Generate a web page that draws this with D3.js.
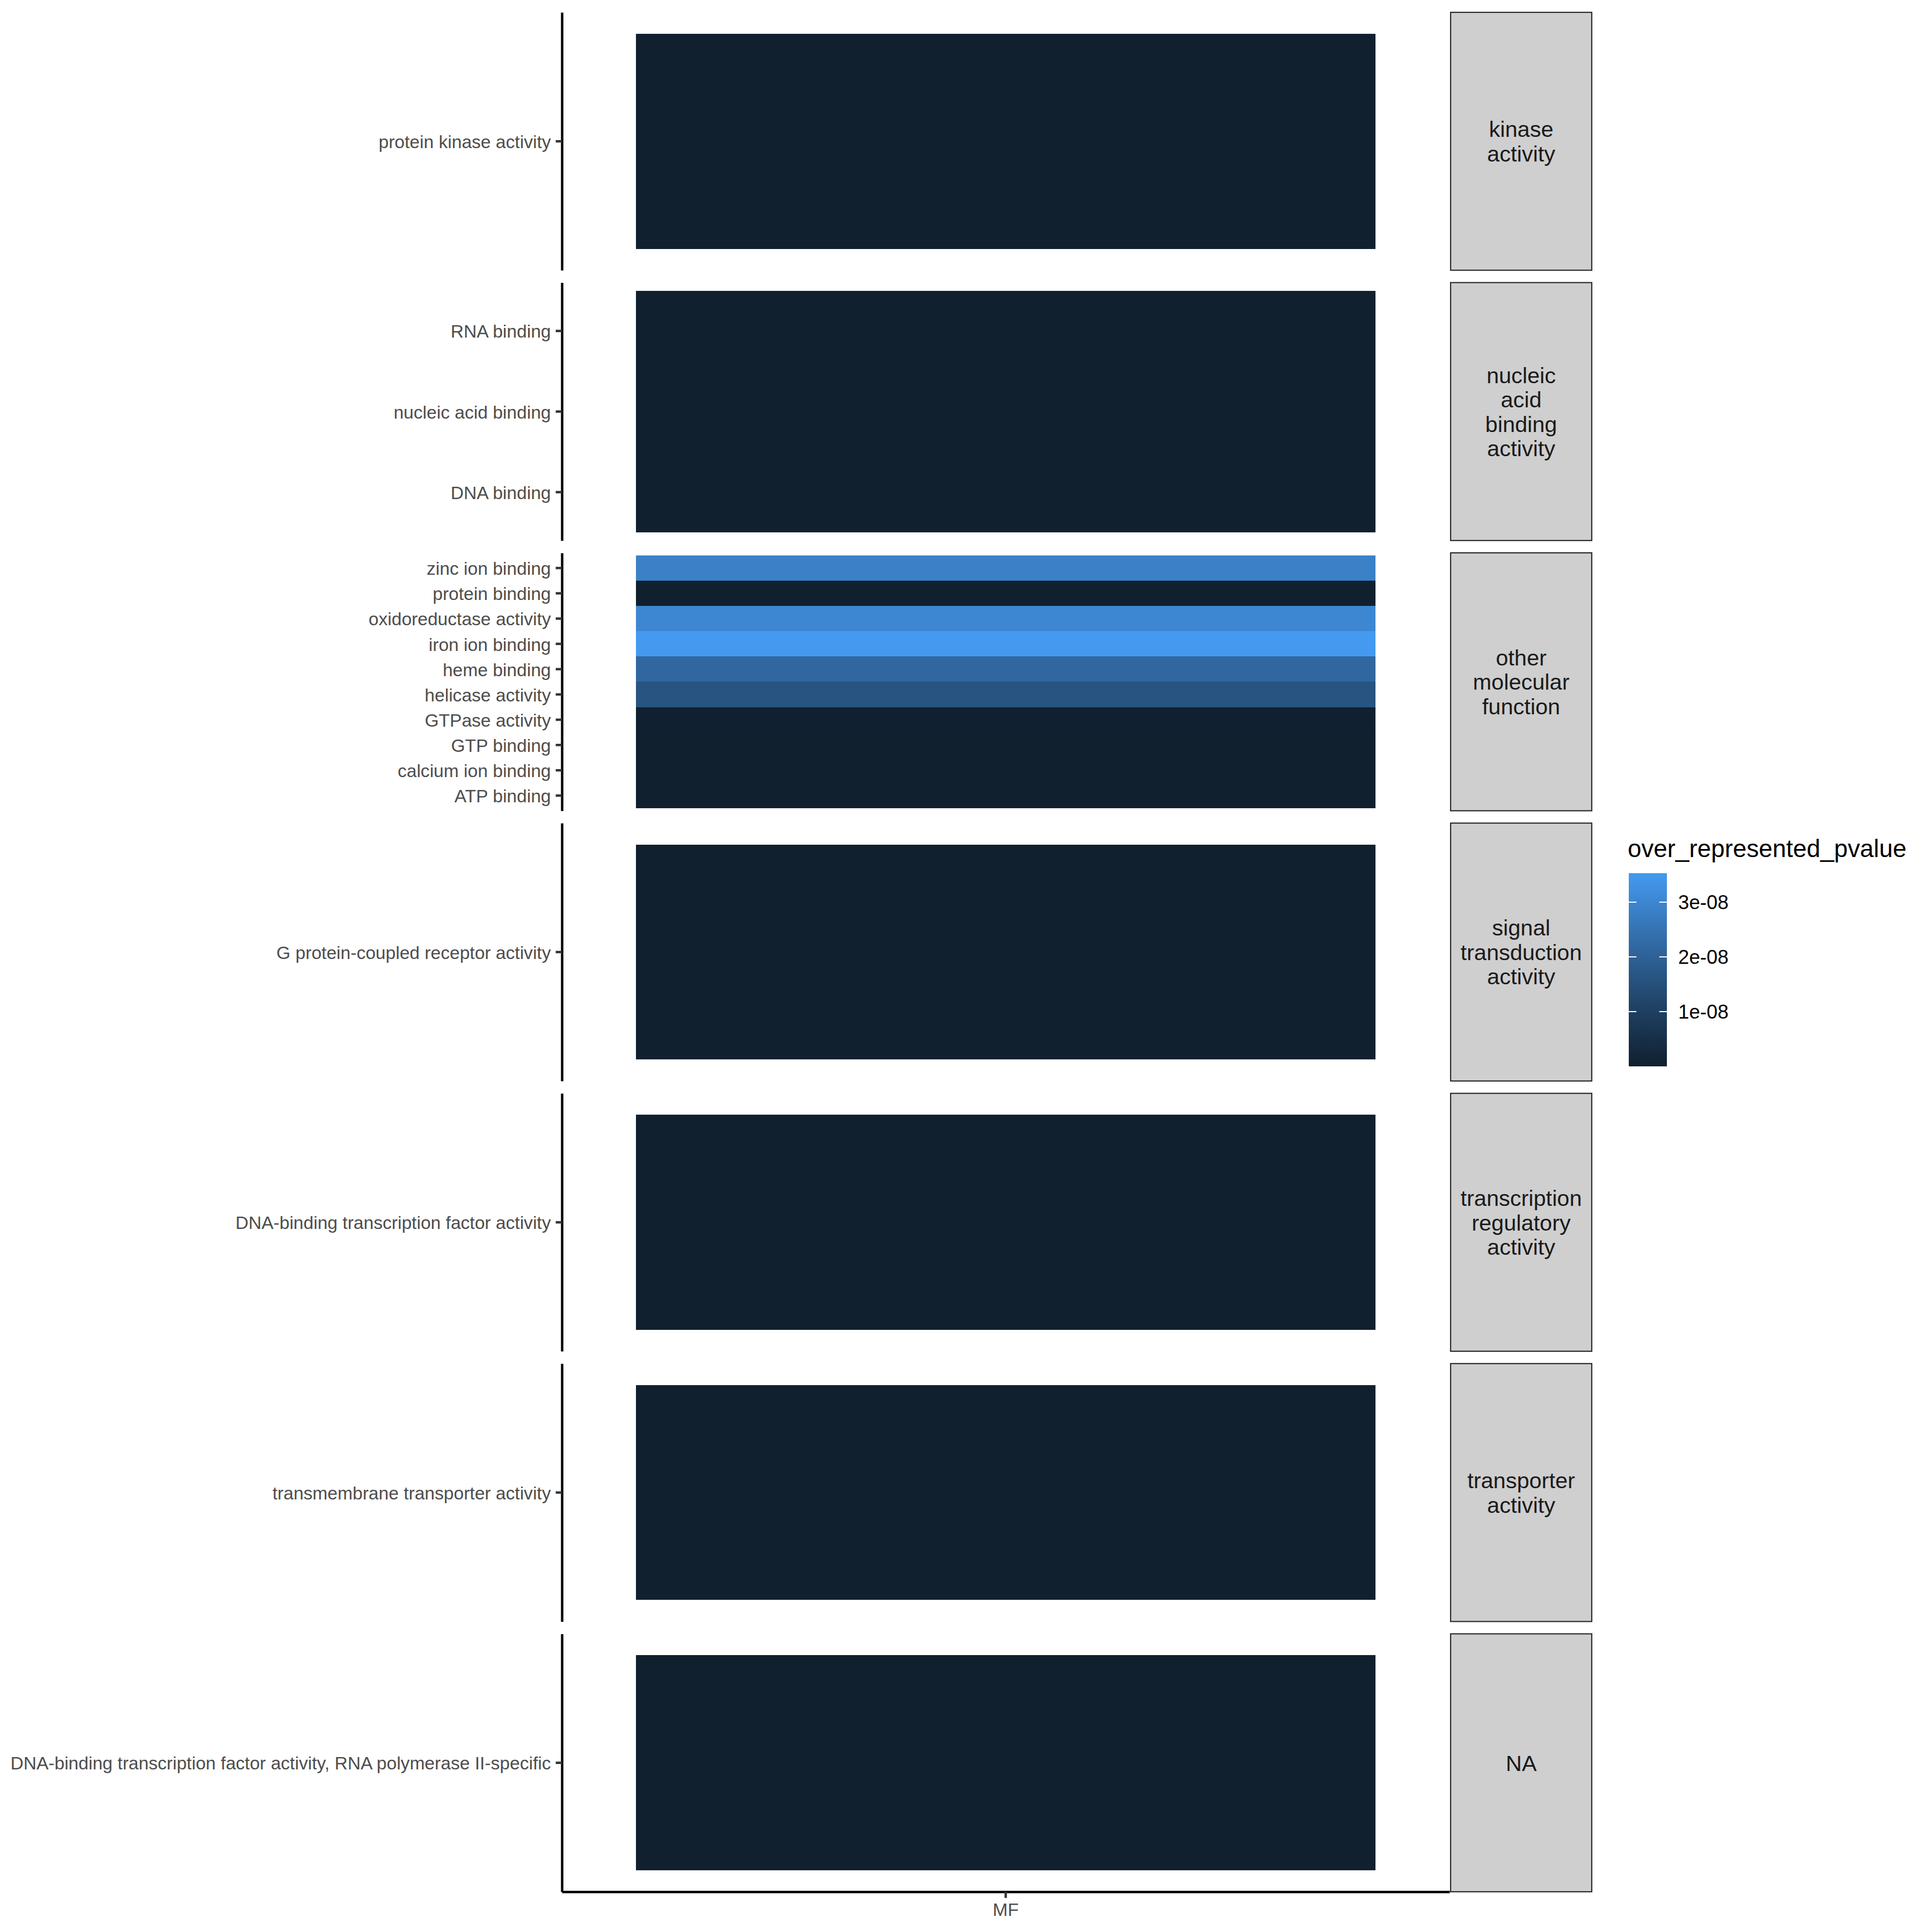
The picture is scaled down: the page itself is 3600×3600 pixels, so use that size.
<!DOCTYPE html>
<html><head><meta charset="utf-8">
<script src="https://cdn.jsdelivr.net/npm/d3@7"></script>
<style>body{margin:0;background:#fff}</style>
</head><body>
<script>
// ---------- data ----------
const groups = ["kinase activity","nucleic acid binding activity","other molecular function",
  "signal transduction activity","transcription regulatory activity","transporter activity","NA"];
// terms listed top-to-bottom as displayed
const terms = [
  "protein kinase activity",
  "RNA binding","nucleic acid binding","DNA binding",
  "zinc ion binding","protein binding","oxidoreductase activity","iron ion binding","heme binding",
  "helicase activity","GTPase activity","GTP binding","calcium ion binding","ATP binding",
  "G protein-coupled receptor activity",
  "DNA-binding transcription factor activity",
  "transmembrane transporter activity",
  "DNA-binding transcription factor activity, RNA polymerase II-specific"
];
const termGroups = [
  "kinase activity",
  "nucleic acid binding activity","nucleic acid binding activity","nucleic acid binding activity",
  "other molecular function","other molecular function","other molecular function","other molecular function","other molecular function",
  "other molecular function","other molecular function","other molecular function","other molecular function","other molecular function",
  "signal transduction activity",
  "transcription regulatory activity",
  "transporter activity",
  "NA"
];
const pvalues = [
  2.1e-12,
  4.0e-11, 6.0e-13, 1.2e-11,
  2.86e-08, 3.0e-11, 3.04e-08, 3.53e-08, 2.15e-08,
  1.61e-08, 1.5e-10, 8.0e-11, 2.0e-11, 1.0e-13,
  5.0e-12,
  1.0e-12,
  3.0e-12,
  2.0e-12
];
const xCategories = ["MF"];
const legendTicks = [1e-8, 2e-8, 3e-8];
const legendTitle = "over_represented_pvalue";

// ---------- layout ----------
const W = 3600, H = 3600;
const font = "'Liberation Sans', Arial, Helvetica, sans-serif";
const panelLeft = 1047, panelRight = 2701, panelTop = 23, panelBottom = 3525, gap = 23;
const stripLeft = 2703, stripWidth = 263;
const nP = groups.length;
const panelH = (panelBottom - panelTop - gap * (nP - 1)) / nP;

const svg = d3.select("body").append("svg")
  .attr("width", W).attr("height", H)
  .style("font-family", font);
svg.append("rect").attr("width", W).attr("height", H).attr("fill", "#fff");

const vmin = d3.min(pvalues), vmax = d3.max(pvalues);
const color = d3.scaleLinear().domain([vmin, vmax])
  .range(["#10202f", "#449af0"]).interpolate(d3.interpolateLab);

const x = d3.scaleBand().domain(xCategories).range([panelLeft, panelRight])
  .paddingInner(0).paddingOuter(0.1);

const data = terms.map((t, i) => ({term: t, group: termGroups[i], p: pvalues[i]}));

function wrap(s, width) {
  const words = s.split(" "); const lines = []; let cur = "";
  words.forEach(w => {
    if (cur === "") cur = w;
    else if ((cur + " " + w).length <= width) cur += " " + w;
    else { lines.push(cur); cur = w; }
  });
  if (cur) lines.push(cur);
  return lines;
}

groups.forEach((g, gi) => {
  const top = panelTop + gi * (panelH + gap);
  const bottom = top + panelH;
  const rows = data.filter(d => d.group === g);
  const y = d3.scaleBand().domain(rows.map(d => d.term)).range([top, bottom])
    .paddingInner(0).paddingOuter(0.1);

  svg.append("g").selectAll("rect").data(rows).join("rect")
    .attr("x", d => x("MF"))
    .attr("width", x.bandwidth())
    .attr("y", d => y(d.term))
    .attr("height", y.bandwidth())
    .attr("fill", d => color(d.p))
    .attr("shape-rendering", "crispEdges");

  const ax = svg.append("g").attr("transform", `translate(${panelLeft},0)`)
    .call(d3.axisLeft(y).tickSize(11.5).tickSizeOuter(0).tickPadding(9));
  ax.select(".domain").attr("stroke", "#000").attr("stroke-width", 4.5);
  ax.selectAll(".tick line").attr("stroke", "#333").attr("stroke-width", 4.5);
  ax.selectAll(".tick text").attr("fill", "#4d4d4d").style("font-size", "33.6px")
    .attr("dy", "0.38em").style("font-family", font);

  // strip
  svg.append("rect").attr("x", stripLeft).attr("y", top)
    .attr("width", stripWidth).attr("height", panelH)
    .attr("fill", "#cfcfcf").attr("stroke", "#2a2a2a").attr("stroke-width", 2.2);
  const lines = wrap(g, 10);
  const lh = 45.5;
  const cy = top + panelH / 2;
  const t = svg.append("text").attr("text-anchor", "middle")
    .attr("fill", "#1a1a1a").style("font-size", "41.5px");
  lines.forEach((l, i) => {
    t.append("tspan").attr("x", stripLeft + stripWidth / 2)
      .attr("y", cy + (i - (lines.length - 1) / 2) * lh)
      .attr("dy", "0.36em").text(l);
  });
});

// bottom axis
const bx = svg.append("g").attr("transform", `translate(0,${panelBottom})`)
  .call(d3.axisBottom(x).tickSize(11.5).tickSizeOuter(0).tickPadding(10));
bx.select(".domain").attr("stroke", "#000").attr("stroke-width", 4.5);
bx.selectAll(".tick line").attr("stroke", "#333").attr("stroke-width", 4.5);
bx.selectAll(".tick text").attr("fill", "#4d4d4d").style("font-size", "33.6px")
  .style("font-family", font);

// ---------- legend ----------
const lgX = 3035, lgW = 71, lgTop = 1627, lgBot = 1987;
const ly = d3.scaleLinear().domain([vmin, vmax]).range([lgBot, lgTop]);
const defs = svg.append("defs");
const grad = defs.append("linearGradient").attr("id", "lg")
  .attr("x1", 0).attr("y1", 1).attr("x2", 0).attr("y2", 0);
d3.range(0, 1.0001, 0.05).forEach(f => {
  grad.append("stop").attr("offset", f)
    .attr("stop-color", color(vmin + f * (vmax - vmin)));
});
svg.append("rect").attr("x", lgX).attr("y", lgTop).attr("width", lgW)
  .attr("height", lgBot - lgTop).attr("fill", "url(#lg)");

function fmtExp(v) {
  const [m, e] = v.toExponential(0).split("e");
  const n = Math.abs(+e);
  return m + "e" + (+e < 0 ? "-" : "+") + String(n).padStart(2, "0");
}
const tl = svg.append("g");
legendTicks.forEach(v => {
  const yy = ly(v);
  tl.append("line").attr("x1", lgX).attr("x2", lgX + lgW / 5).attr("y1", yy).attr("y2", yy)
    .attr("stroke", "#fff").attr("stroke-width", 2);
  tl.append("line").attr("x1", lgX + lgW - lgW / 5).attr("x2", lgX + lgW).attr("y1", yy).attr("y2", yy)
    .attr("stroke", "#fff").attr("stroke-width", 2);
  tl.append("text").attr("x", 3127).attr("y", yy).attr("dy", "0.36em")
    .attr("fill", "#000").style("font-size", "36.7px").text(fmtExp(v));
});
svg.append("text").attr("x", 3033).attr("y", 1597).attr("fill", "#000")
  .style("font-size", "45.8px").text(legendTitle);
</script>
</body></html>
